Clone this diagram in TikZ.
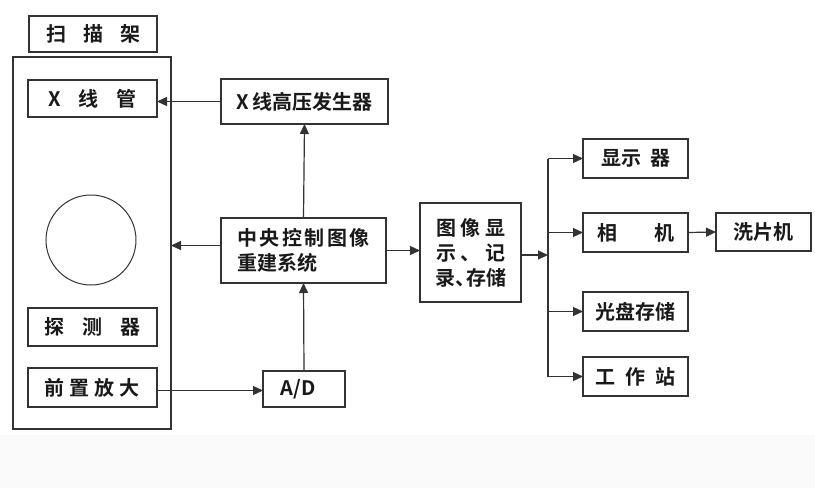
\documentclass[tikz,border=0pt]{standalone}
\usepackage{fontspec}
\usetikzlibrary{arrows.meta}
\newfontfamily\cjkbold{Noto Sans CJK SC Bold}
\definecolor{ink}{HTML}{333333}

\begin{document}
\begin{tikzpicture}[x=1pt,y=-1pt,
    box/.style={draw=ink,line width=1.3pt,inner sep=0pt,outer sep=0pt,text=black!90,
      font=\cjkbold\fontsize{20}{25}\selectfont},
    arr/.style={draw=ink,line width=1.2pt,-{Triangle[length=10pt,width=9pt]}}]
        \useasboundingbox (0,0) rectangle (815,488);
        \fill[gray!4] (0,435) rectangle (815,488);
        \path
          (92,243)     node[box,minimum width=158,minimum height=372] (frame) {}
          (93,34)      node[box,minimum width=128,minimum height=36] (scan)  {扫\kern17pt 描\kern17pt 架}
          (92.5,98.5)  node[box,minimum width=129,minimum height=37] (tube)  {X\kern18pt 线\kern18pt 管}
          (92.5,327)   node[box,minimum width=129,minimum height=38] (det)   {探\kern18pt 测\kern18pt 器}
          (92.5,387.5) node[box,minimum width=129,minimum height=39] (amp)   {前\kern5pt 置\kern5pt 放\kern5pt 大}
          (304.5,101.5) node[box,minimum width=167,minimum height=45] (hv)   {X\kern3pt 线高压发生器}
          (303.5,250.5) node[box,minimum width=165,minimum height=65,align=left] (ctrl)
            {中\kern2.5pt 央\kern2.5pt 控\kern2.5pt 制\kern2.5pt 图\kern2.5pt 像\\重建系统\kern53pt\null}
          (304,389)    node[box,minimum width=82,minimum height=36] (ad)     {A/D\kern12pt\null}
          (470.5,252.5) node[box,minimum width=101,minimum height=99,align=center] (disp)
            {图\kern4.5pt 像\kern4.5pt 显\\示\kern4.5pt 、\kern4.5pt 记\\录、\kern-9pt 存储\kern0pt}
          (635.5,158.5) node[box,minimum width=105,minimum height=39] (mon)  {显示\kern9pt 器}
          (635.5,232.5) node[box,minimum width=105,minimum height=39] (cam)  {相\kern37pt 机}
          (763.5,232)   node[box,minimum width=95,minimum height=38]  (film) {洗片机}
          (635.5,311.5) node[box,minimum width=105,minimum height=39] (disk) {光盘存储}
          (635.5,376.5) node[box,minimum width=105,minimum height=39] (ws)   {工\kern10pt 作\kern10pt 站};
        \draw[ink,line width=1pt] (91,240) circle[radius=45];
        \coordinate (jn) at (548,255);
        \draw[arr] (hv.west) -- (hv.west -| tube.east);
        \draw[arr] (ctrl.north) -- (hv.south);
        \draw[arr] ([yshift=5pt]ctrl.west) -- ([yshift=5pt]ctrl.west -| frame.east);
        \draw[arr] (ad.north) -- (ctrl.south);
        \draw[arr] ([yshift=-3pt]amp.east) -- ([yshift=-3pt]amp.east -| ad.west);
        \draw[arr] (ctrl.east) -- (ctrl.east -| disp.west);
        \draw[arr] (disp.east |- jn) -- (jn);
        \draw[draw=ink,line width=1.2pt] (jn |- mon.west) -- (jn |- ws.west);
        \draw[arr] (jn |- mon.west) -- (mon.west);
        \draw[arr] (jn |- cam.west) -- (cam.west);
        \draw[arr] (jn |- disk.west) -- (disk.west);
        \draw[arr] (jn |- ws.west) -- (ws.west);
        \draw[arr] (cam.east) -- (film.west);
      \end{tikzpicture}
\end{document}
